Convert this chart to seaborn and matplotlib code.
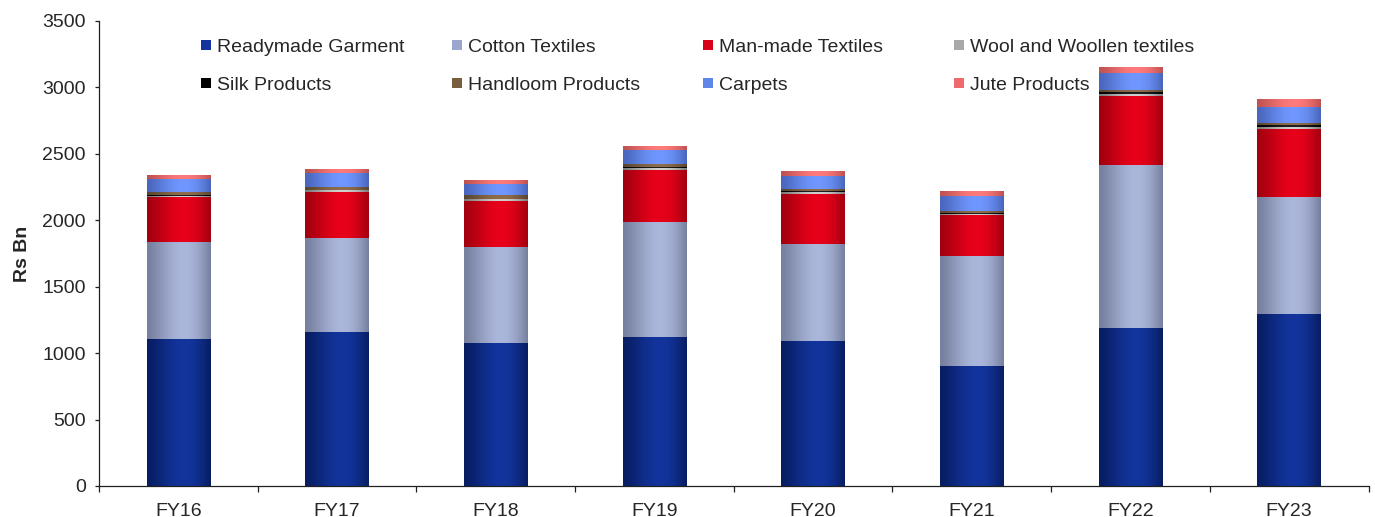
import numpy as np
import pandas as pd
import matplotlib
matplotlib.use("Agg")
import matplotlib.pyplot as plt
import matplotlib.colors as mcolors
from matplotlib.lines import Line2D
import seaborn as sns

# ---------------- data ----------------
years = ["FY16", "FY17", "FY18", "FY19", "FY20", "FY21", "FY22", "FY23"]
readymade = [1106, 1159, 1076, 1121, 1091, 903, 1189, 1294]
cotton = [730, 707, 722, 865, 730, 828, 1226, 880]
manmade = [338, 346, 346, 392, 376, 308, 522, 512]
wool = [10, 15, 15, 17, 17, 8, 15, 17]
silk = [8, 3, 3, 8, 3, 10, 10, 15]
handloom = [22, 22, 25, 20, 20, 13, 17, 15]
carpets = [95, 105, 88, 105, 100, 115, 130, 118]
jute = [25, 30, 30, 30, 35, 35, 45, 53]

series_names = ["Readymade Garment", "Cotton Textiles", "Man-made Textiles",
                "Wool and Woollen textiles", "Silk Products", "Handloom Products",
                "Carpets", "Jute Products"]
series_values = [readymade, cotton, manmade, wool, silk, handloom, carpets, jute]

# (edge colour, centre colour) for the cylinder-like shading
shades = [("#081d62", "#12349c"),
          ("#767f9e", "#aab6da"),
          ("#a2000f", "#e8001a"),
          ("#7c7c7c", "#d0d0d0"),
          ("#000000", "#202020"),
          ("#5a4630", "#8f6d4b"),
          ("#4966bd", "#7097ff"),
          ("#bf5252", "#ff7a7a")]
legend_colors = ["#12349c", "#9aa6cc", "#d8001a", "#a8a8a8",
                 "#000000", "#7a5c3e", "#5f86e8", "#ef6a6a"]

# ---------------- style ----------------
sns.set_style("white")
plt.rcParams["font.family"] = ["Liberation Sans", "DejaVu Sans"]

W, H = 1375, 517
fig = plt.figure(figsize=(W / 100, H / 100), dpi=100)
ax = fig.add_axes([99 / W, (H - 486) / H, (1368.5 - 99) / W, (486 - 21) / H])

bottoms = np.zeros(len(years))
layer_patches = []
for i, vals in enumerate(series_values):
    df = pd.DataFrame({"year": years, "value": vals})
    n0 = len(ax.patches)
    sns.barplot(data=df, x="year", y="value", order=years, ax=ax,
                color=legend_colors[i], width=0.4, errorbar=None,
                bottom=bottoms.copy(), linewidth=0, saturation=1)
    layer_patches.append(ax.patches[n0:])
    bottoms = bottoms + np.array(vals, dtype=float)

# gradient shading over each bar
t = np.linspace(0, 1, 96)
wgt = np.sin(np.pi * t ** 1.27)
for i, patches in enumerate(layer_patches):
    e = np.array(mcolors.to_rgb(shades[i][0]))
    c = np.array(mcolors.to_rgb(shades[i][1]))
    cols = e[None, :] + (c - e)[None, :] * wgt[:, None]
    img = cols[None, :, :]
    for p in patches:
        x0, y0 = p.get_x(), p.get_y()
        w, h = p.get_width(), p.get_height()
        ax.imshow(img, extent=[x0, x0 + w, y0, y0 + h], aspect="auto",
                  interpolation="bilinear", zorder=p.get_zorder() + 0.1)

ax.set_xlim(-0.5, len(years) - 0.5)
ax.set_ylim(0, 3500)
ax.set_yticks(np.arange(0, 3501, 500))
ax.set_xticks(range(len(years)))
ax.set_xticklabels(years)
ax.set_xticks(np.arange(-0.5, len(years), 1.0), minor=True)

for s in ["top", "right"]:
    ax.spines[s].set_visible(False)
for s in ["left", "bottom"]:
    ax.spines[s].set_color("#202020")
    ax.spines[s].set_linewidth(0.9)

ax.tick_params(axis="y", which="major", direction="out", length=3, width=0.9,
               color="#202020", labelsize=14, pad=6.5, left=True)
ax.tick_params(axis="x", which="major", length=0, labelsize=14, pad=12)
ax.tick_params(axis="x", which="minor", direction="out", length=4, width=0.9,
               color="#202020", bottom=True)
ax.set_xlabel("")
ax.set_ylabel("Rs Bn", fontsize=14, fontweight="bold", labelpad=8)

# legend: four equally spaced columns of two rows
col_x = [201, 452, 703, 954]
for k in range(4):
    idx = [k, k + 4]
    handles = [Line2D([0], [0], marker="s", linestyle="none", markersize=6.5,
                      markerfacecolor=legend_colors[j], markeredgewidth=0)
               for j in idx]
    labels = [series_names[j] for j in idx]
    leg = fig.legend(handles, labels, loc="upper left",
                     bbox_to_anchor=(col_x[k] / W, 1 - 38 / H),
                     bbox_transform=fig.transFigure, frameon=False,
                     fontsize=14, handlelength=0.5, handletextpad=0.3,
                     borderpad=0, borderaxespad=0, labelspacing=1.07)

fig.savefig("out.png", dpi=100)
